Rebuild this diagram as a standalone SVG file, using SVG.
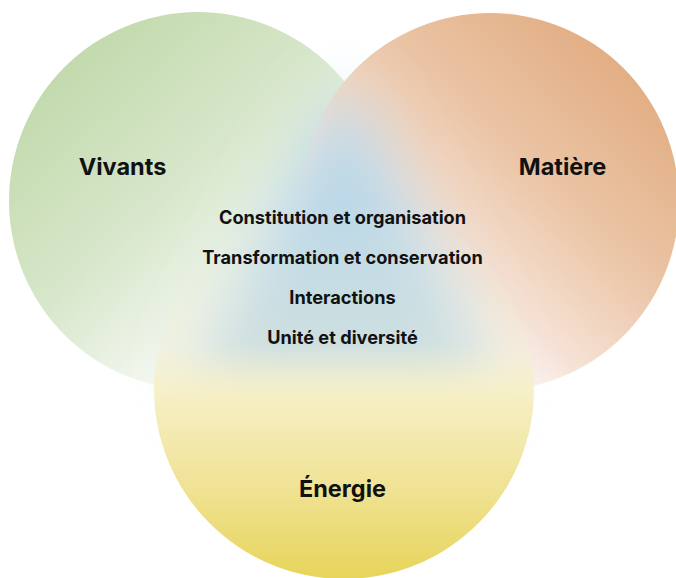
<svg xmlns="http://www.w3.org/2000/svg" width="676" height="578" viewBox="0 0 676 578">
  <defs>
    <linearGradient id="gGreen" gradientUnits="userSpaceOnUse" x1="70" y1="60" x2="320" y2="330">
      <stop offset="0" stop-color="#c2daad"/>
      <stop offset="0.45" stop-color="#d8e7cb"/>
      <stop offset="0.72" stop-color="#eef4e8"/>
      <stop offset="1" stop-color="#f6f8f2" stop-opacity="0.2"/>
    </linearGradient>
    <linearGradient id="gOrange" gradientUnits="userSpaceOnUse" x1="630" y1="70" x2="390" y2="330">
      <stop offset="0" stop-color="#e2ae84"/>
      <stop offset="0.4" stop-color="#ebc5a6"/>
      <stop offset="0.72" stop-color="#f6e2d6"/>
      <stop offset="1" stop-color="#fbf2ee" stop-opacity="0.2"/>
    </linearGradient>
    <linearGradient id="gYellow" gradientUnits="userSpaceOnUse" x1="0" y1="200" x2="0" y2="580">
      <stop offset="0" stop-color="#f7f1d0" stop-opacity="0"/>
      <stop offset="0.38" stop-color="#f6efcc" stop-opacity="0.3"/>
      <stop offset="0.52" stop-color="#f6efc4" stop-opacity="1"/>
      <stop offset="0.75" stop-color="#f0e396"/>
      <stop offset="1" stop-color="#e7d459"/>
    </linearGradient>
    <filter id="blur" x="-50%" y="-50%" width="200%" height="200%">
      <feGaussianBlur stdDeviation="30"/>
    </filter>
    <style>
      .lbl { font-family: Inter, "Liberation Sans", sans-serif; font-weight: 700; fill: #111; text-anchor: middle; }
      .title { font-size: 23.5px; }
      .sub { font-size: 18.2px; }
    </style>
  </defs>
  <rect width="676" height="578" fill="#ffffff"/>
  <g id="vivants">
    <circle cx="198" cy="201" r="189" fill="url(#gGreen)"/>
  </g>
  <g id="matiere">
    <circle cx="490" cy="202" r="189" fill="url(#gOrange)"/>
  </g>
  <g id="centre-glow">
    <path d="M344,120 L472,372 L216,372 Z" fill="#bcd8e8" stroke="#bcd8e8" stroke-width="44" stroke-linejoin="round" filter="url(#blur)"/>
  </g>
  <g id="energie">
    <circle cx="344" cy="389" r="190" fill="url(#gYellow)"/>
  </g>
  <g id="labels">
    <text class="lbl title" x="122.5" y="175">Vivants</text>
    <text class="lbl title" x="562.5" y="175">Matière</text>
    <text class="lbl title" x="342.5" y="497">Énergie</text>
  </g>
  <g id="themes">
    <text class="lbl sub" x="342.5" y="224">Constitution et organisation</text>
    <text class="lbl sub" x="342.5" y="264">Transformation et conservation</text>
    <text class="lbl sub" x="342.5" y="304">Interactions</text>
    <text class="lbl sub" x="342.5" y="344">Unité et diversité</text>
  </g>
  <g id="connectors"/>
</svg>
